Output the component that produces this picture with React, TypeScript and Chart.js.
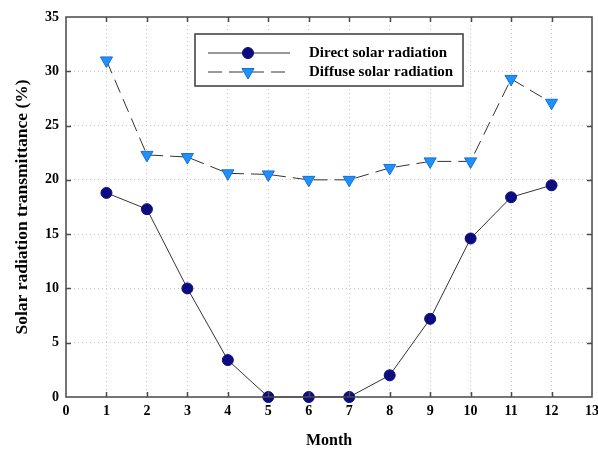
import React, { useEffect, useRef } from "react";
import { Chart, registerables } from "chart.js";

Chart.register(...registerables);

const months = [1, 2, 3, 4, 5, 6, 7, 8, 9, 10, 11, 12];
const directValues = [18.8, 17.3, 10.0, 3.4, 0, 0, 0, 2.0, 7.2, 14.6, 18.4, 19.5];
const diffuseValues = [31.0, 22.3, 22.1, 20.6, 20.5, 20.0, 20.0, 21.1, 21.7, 21.7, 29.3, 27.1];
const seriesNames = ["Direct solar radiation", "Diffuse solar radiation"];
const xTitle = "Month";
const yTitle = "Solar radiation transmittance (%)";

const FONT = "'Liberation Serif', 'Times New Roman', serif";

const framePlugin = {
  id: "frameAndTicks",
  afterDatasetsDraw(chart: any) {
    const { ctx, chartArea } = chart;
    const { left, right, top, bottom } = chartArea;
    const xs = chart.scales.x;
    const ys = chart.scales.y;
    ctx.save();
    ctx.strokeStyle = "#4a4a4a";
    ctx.lineWidth = 1.5;
    ctx.setLineDash([]);
    const tl = 5;
    ctx.beginPath();
    xs.ticks.forEach((t: any) => {
      const px = Math.round(xs.getPixelForValue(t.value)) + 0.5;
      if (px <= left + 1 || px >= right - 1) return;
      ctx.moveTo(px, bottom);
      ctx.lineTo(px, bottom - tl);
      ctx.moveTo(px, top);
      ctx.lineTo(px, top + tl);
    });
    ys.ticks.forEach((t: any) => {
      const py = Math.round(ys.getPixelForValue(t.value)) + 0.5;
      if (py <= top + 1 || py >= bottom - 1) return;
      ctx.moveTo(left, py);
      ctx.lineTo(left + tl, py);
      ctx.moveTo(right, py);
      ctx.lineTo(right - tl, py);
    });
    ctx.stroke();
    ctx.strokeRect(left, top, right - left, bottom - top);
    ctx.restore();
  },
  afterDraw(chart: any) {
    const { ctx } = chart;
    const ds = chart.data.datasets;
    const bx = 195, by = 34, bw = 268, bh = 52;
    ctx.save();
    ctx.fillStyle = "#ffffff";
    ctx.fillRect(bx, by, bw, bh);
    ctx.strokeStyle = "#3a3a3a";
    ctx.lineWidth = 1.5;
    ctx.setLineDash([]);
    ctx.strokeRect(bx, by, bw, bh);
    const rows = [53, 72];
    ds.forEach((d: any, i: number) => {
      const y = rows[i];
      ctx.strokeStyle = d.borderColor;
      ctx.lineWidth = d.borderWidth;
      ctx.setLineDash(d.borderDash || []);
      ctx.beginPath();
      ctx.moveTo(208, y);
      ctx.lineTo(290, y);
      ctx.stroke();
      ctx.setLineDash([]);
      ctx.fillStyle = d.pointBackgroundColor;
      ctx.strokeStyle = d.pointBorderColor;
      ctx.lineWidth = d.pointBorderWidth;
      ctx.beginPath();
      if (d.pointStyle === "circle") {
        ctx.arc(248, y, d.pointRadius, 0, Math.PI * 2);
      } else {
        const r = d.pointRadius;
        ctx.moveTo(248, y + r);
        ctx.lineTo(248 - r * Math.sin(Math.PI / 3), y - r / 2);
        ctx.lineTo(248 + r * Math.sin(Math.PI / 3), y - r / 2);
        ctx.closePath();
      }
      ctx.fill();
      ctx.stroke();
      ctx.fillStyle = "#000000";
      ctx.font = `bold 15px ${FONT}`;
      ctx.textAlign = "left";
      ctx.textBaseline = "middle";
      ctx.fillText(d.label, 309, y);
    });
    ctx.restore();
  },
};

export default function App() {
  const ref = useRef<HTMLCanvasElement>(null);
  useEffect(() => {
    if (!ref.current) return;
    const chart = new Chart(ref.current, {
      type: "line",
      data: {
        datasets: [
          {
            label: seriesNames[0],
            data: months.map((m, i) => ({ x: m, y: directValues[i] })),
            borderColor: "#333333",
            borderWidth: 1,
            pointStyle: "circle",
            pointRadius: 5.5,
            pointBackgroundColor: "#0c0c7e",
            pointBorderColor: "#0c0c7e",
            pointBorderWidth: 1,
            tension: 0,
            clip: false,
          } as any,
          {
            label: seriesNames[1],
            data: months.map((m, i) => ({ x: m, y: diffuseValues[i] })),
            borderColor: "#333333",
            borderWidth: 1,
            borderDash: [14, 7],
            pointStyle: "triangle",
            pointRotation: 180,
            pointRadius: 7,
            pointBackgroundColor: "#1e90ff",
            pointBorderColor: "#1570d0",
            pointBorderWidth: 1,
            tension: 0,
            clip: false,
          } as any,
        ],
      },
      options: {
        animation: false,
        responsive: false,
        maintainAspectRatio: false,
        layout: { autoPadding: false, padding: { top: 17, right: 6, left: 0, bottom: 0 } },
        plugins: {
          legend: { display: false },
          tooltip: { enabled: false },
        },
        scales: {
          x: {
            type: "linear",
            min: 0,
            max: 13,
            afterFit: (s: any) => {
              s.height = 57;
              s.paddingLeft = 0;
              s.paddingRight = 0;
            },
            ticks: {
              stepSize: 1,
              padding: 6,
              color: "#000",
              font: { family: FONT, size: 14, weight: "bold" },
              maxRotation: 0,
            },
            grid: {
              color: "#c8c8c8",
              lineWidth: 1,
              drawTicks: false,
            },
            border: { display: false, dash: [1, 3] },
            title: {
              display: true,
              text: xTitle,
              color: "#000",
              font: { family: FONT, size: 16, weight: "bold" },
              padding: { top: 4, bottom: 4 },
            },
          },
          y: {
            min: 0,
            max: 35,
            afterFit: (s: any) => {
              s.width = 66;
              s.paddingTop = 0;
              s.paddingBottom = 0;
            },
            ticks: {
              stepSize: 5,
              padding: 7,
              color: "#000",
              font: { family: FONT, size: 14, weight: "bold" },
            },
            grid: {
              color: "#c8c8c8",
              lineWidth: 1,
              drawTicks: false,
            },
            border: { display: false, dash: [1, 3] },
            title: {
              display: true,
              text: yTitle,
              color: "#000",
              font: { family: FONT, size: 17.5, weight: "bold" },
              padding: { top: 12, bottom: 4 },
            },
          },
        },
      } as any,
      plugins: [framePlugin],
    });
    return () => chart.destroy();
  }, []);
  return (
    <div style={{ position: "fixed", left: 0, top: 0, width: 598, height: 454, background: "#fff" }}>
      <canvas ref={ref} width={598} height={454} style={{ display: "block", width: 598, height: 454 }} />
    </div>
  );
}
